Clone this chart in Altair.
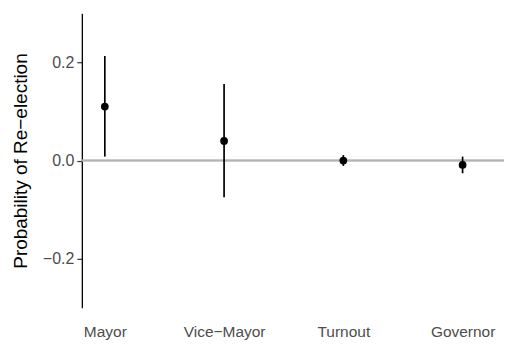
import altair as alt
import pandas as pd

# Estimated effects on the probability of re-election, with confidence bounds
offices = ["Mayor", "Vice\u2212Mayor", "Turnout", "Governor"]
estimate = [0.110, 0.040, 0.000, -0.009]
lower = [0.008, -0.075, -0.011, -0.026]
upper = [0.213, 0.156, 0.011, 0.008]

df = pd.DataFrame({"office": offices, "est": estimate, "lo": lower, "hi": upper})

FONT = "Liberation Sans"

x_enc = alt.X(
    "office:N",
    sort=offices,
    title=None,
    scale=alt.Scale(type="point", padding=0.27, align=0.357),
    axis=alt.Axis(
        domain=False, ticks=False, labelAngle=0, labelPadding=17,
        labelFont=FONT, labelFontSize=15.5, labelColor="#4d4d4d",
    ),
)

y_scale = alt.Scale(domain=[-0.3, 0.3], nice=False, zero=False)

base = alt.Chart(df)

zero_line = base.mark_rule(color="#b3b3b3", strokeWidth=1.6).encode(
    y=alt.datum(0, scale=y_scale)
)

bars = base.mark_rule(color="black", strokeWidth=1.7).encode(
    x=x_enc,
    y=alt.Y(
        "lo:Q",
        scale=y_scale,
        title="Probability of Re\u2212election",
        axis=alt.Axis(
            values=[-0.2, 0.0, 0.2], format=".1f", grid=False,
            domainColor="black", domainWidth=1.3,
            tickColor="#333333", tickSize=5, tickWidth=1.2, labelPadding=3,
            labelFont=FONT, labelFontSize=16, labelColor="#4d4d4d",
            titleFont=FONT, titleFontSize=19, titleFontWeight="normal",
            titleColor="black", titlePadding=12,
        ),
    ),
    y2="hi:Q",
)

points = base.mark_circle(color="black", size=60, opacity=1).encode(
    x=x_enc, y=alt.Y("est:Q", scale=y_scale)
)

chart = (
    alt.layer(zero_line, bars, points)
    .properties(
        width=423, height=295, background="white",
        padding={"left": 11, "top": 13, "right": 0, "bottom": 2},
    )
    .configure_view(stroke=None)
)

chart.save("out.html", embed_options={"renderer": "svg", "actions": False})
